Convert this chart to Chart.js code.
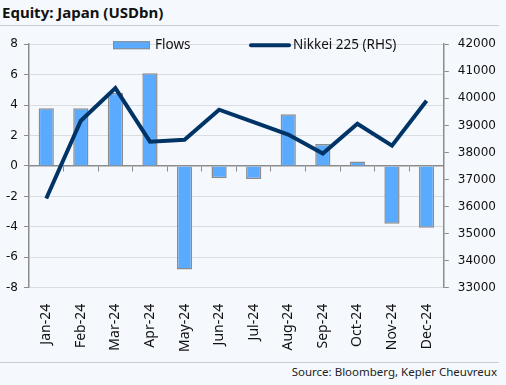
<!DOCTYPE html>
<html>
<head>
<meta charset="utf-8">
<script src="https://cdn.jsdelivr.net/npm/chart.js@4.4.1/dist/chart.umd.min.js"></script>
<style>
  html, body { margin: 0; padding: 0; }
  body { width: 506px; height: 385px; background: #f5f9fd; position: relative; overflow: hidden; font-family: "Noto Sans", sans-serif; }
  .title { position: absolute; left: 2px; top: 2px; font-weight: bold; font-size: 15px; color: #111; }
  .rule { position: absolute; left: 0; width: 499px; height: 1px; background: #c9cdd2; }
  .source { position: absolute; right: 9px; top: 364px; font-size: 11.5px; color: #222; }
  .wrap { position: absolute; left: 0; top: 28px; width: 506px; height: 334px; }
</style>
</head>
<body>
<div class="title">Equity: Japan (USDbn)</div>
<div class="rule" style="top:25px"></div>
<div class="wrap"><canvas id="chart"></canvas></div>
<div class="rule" style="top:362px"></div>
<div class="source">Source: Bloomberg, Kepler Cheuvreux</div>
<script>
// data
const months = ['Jan-24', 'Feb-24', 'Mar-24', 'Apr-24', 'May-24', 'Jun-24', 'Jul-24', 'Aug-24', 'Sep-24', 'Oct-24', 'Nov-24', 'Dec-24'];
const flows = [3.8, 3.8, 4.8, 6.1, -6.8, -0.8, -0.85, 3.4, 1.45, 0.3, -3.8, -4.05];
const nikkei = [36300, 39170, 40380, 38400, 38470, 39580, 39120, 38660, 37960, 39060, 38250, 39910];
const leftTicks = [-8, -6, -4, -2, 0, 2, 4, 6, 8];
const rightTicks = [33000, 34000, 35000, 36000, 37000, 38000, 39000, 40000, 41000, 42000];

const barColor = '#5aabff';
const lineColor = '#003366';
const axisGrey = '#8c8c8c';

// legend inside the plot, drawn on top of the grid
const insideLegend = {
  id: 'insideLegend',
  afterDatasetsDraw(chart) {
    const ctx = chart.ctx;
    const y = chart.chartArea.top + 1;
    ctx.save();
    ctx.font = '13.5px "Noto Sans"';
    ctx.textBaseline = 'middle';
    // Flows
    ctx.fillStyle = barColor;
    ctx.fillRect(113, y - 4, 37, 8);
    ctx.strokeStyle = axisGrey;
    ctx.lineWidth = 1;
    ctx.strokeRect(113.5, y - 3.5, 36, 7);
    ctx.fillStyle = '#111';
    ctx.fillText(chart.data.datasets[1].label, 155, y);
    // Nikkei
    ctx.strokeStyle = lineColor;
    ctx.lineWidth = 4;
    ctx.lineCap = 'round';
    ctx.beginPath();
    ctx.moveTo(251, y);
    ctx.lineTo(289, y);
    ctx.stroke();
    ctx.fillText(chart.data.datasets[0].label, 293, y);
    ctx.restore();
  }
};

new Chart(document.getElementById('chart'), {
  type: 'bar',
  data: {
    labels: months,
    datasets: [
      {
        type: 'line',
        label: 'Nikkei 225 (RHS)',
        data: nikkei,
        yAxisID: 'y1',
        borderColor: lineColor,
        borderWidth: 4,
        pointRadius: 0,
        tension: 0,
        order: 0
      },
      {
        label: 'Flows',
        data: flows,
        yAxisID: 'y',
        backgroundColor: barColor,
        borderColor: axisGrey,
        borderWidth: 1.5,
        categoryPercentage: 1,
        barPercentage: 0.44,
        order: 1
      }
    ]
  },
  options: {
    responsive: true,
    maintainAspectRatio: false,
    animation: false,
    layout: { padding: { left: 0, right: 1, top: 3, bottom: 2 } },
    plugins: { legend: { display: false }, tooltip: { enabled: false } },
    scales: {
      x: {
        position: 'bottom',
        offset: true,
        grid: { display: false },
        border: { display: false },
        ticks: {
          autoSkip: false, minRotation: 90, maxRotation: 90, padding: 8,
          color: '#111', font: { family: 'Noto Sans', size: 14 }
        }
      },
      x0: {
        type: 'category',
        position: { y: 0 },
        offset: true,
        grid: { offset: true, drawOnChartArea: false, drawTicks: true, tickLength: 5, tickColor: axisGrey, color: axisGrey },
        border: { color: axisGrey, width: 1.5 },
        ticks: { display: false }
      },
      y: {
        position: 'left',
        min: -8, max: 8,
        afterBuildTicks(axis) { axis.ticks = leftTicks.map(v => ({ value: v })); },
        grid: { color: '#d9dce0', lineWidth: 1, tickLength: 5, tickColor: axisGrey },
        border: { color: axisGrey, width: 1.5 },
        ticks: { padding: 6, color: '#111', font: { family: 'DejaVu Sans', size: 12 } }
      },
      y1: {
        position: 'right',
        min: 33000, max: 42000,
        afterBuildTicks(axis) { axis.ticks = rightTicks.map(v => ({ value: v })); },
        grid: { drawOnChartArea: false, tickLength: 5, tickColor: axisGrey },
        border: { color: axisGrey, width: 1.5 },
        ticks: { padding: 9, color: '#111', font: { family: 'DejaVu Sans', size: 12 }, callback: v => String(v) }
      }
    }
  },
  plugins: [insideLegend]
});
</script>
</body>
</html>
